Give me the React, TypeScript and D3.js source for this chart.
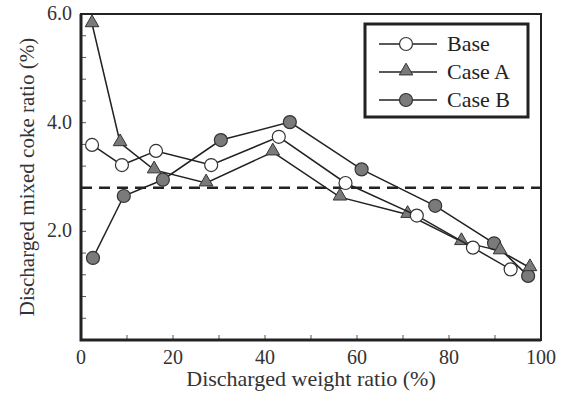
import React from "react";
import * as d3 from "d3";

// discharged weight ratio (%) vs discharged mixed coke ratio (%)
const baseX = [2.4, 8.9, 16.3, 28.3, 43.0, 57.5, 73.0, 85.2, 93.4];
const baseY = [3.59, 3.22, 3.48, 3.22, 3.74, 2.89, 2.29, 1.7, 1.3];
const caseAX = [2.4, 8.5, 15.9, 27.2, 41.7, 56.3, 71.0, 82.7, 91.1, 97.6];
const caseAY = [5.82, 3.63, 3.13, 2.89, 3.46, 2.63, 2.31, 1.81, 1.64, 1.33];
const caseBX = [2.6, 9.3, 17.8, 30.4, 45.4, 61.0, 77.0, 89.8, 97.2];
const caseBY = [1.51, 2.65, 2.95, 3.68, 4.01, 3.14, 2.47, 1.78, 1.18];
const refLine = 2.8;

const xLabels = [0, 20, 40, 60, 80, 100];
const yLabels = [2.0, 4.0, 6.0];
const legendNames = ["Base", "Case A", "Case B"];

const svgWidth = 569;
const svgHeight = 401;
const grey = "#7a7a7a";
const font = "Liberation Serif";
const margin = { top: 14, right: 28, bottom: 61, left: 81 };
const width = svgWidth - margin.left - margin.right;
const height = svgHeight - margin.top - margin.bottom;

const x = d3.scaleLinear().domain([0, 100]).range([0, width]);
const y = d3.scaleLinear().domain([0, 6]).range([height, 0]);
const line = d3
  .line<number[]>()
  .x((d) => x(d[0]))
  .y((d) => y(d[1]));
const tri = d3.symbol().type(d3.symbolTriangle).size(80)() as string;

function Marker({ kind, cx, cy }: { kind: string; cx: number; cy: number }) {
  if (kind === "tri") {
    return (
      <path
        d={tri}
        transform={`translate(${cx},${cy - 1})`}
        fill={grey}
        stroke="#333"
        strokeWidth={1}
      />
    );
  }
  return (
    <circle
      cx={cx}
      cy={cy}
      r={6.5}
      fill={kind === "dot" ? grey : "#fff"}
      stroke="#333"
      strokeWidth={1.2}
    />
  );
}

function App() {
  const series = [
    { xs: caseBX, ys: caseBY, kind: "dot" },
    { xs: caseAX, ys: caseAY, kind: "tri" },
    { xs: baseX, ys: baseY, kind: "open" },
  ];
  const legendKinds = ["open", "tri", "dot"];

  return (
    <svg
      width={svgWidth}
      height={svgHeight}
      style={{ position: "absolute", left: 0, top: 0, background: "#fff" }}
    >
      <g transform={`translate(${margin.left},${margin.top})`}>
        {d3.range(0, 101, 10).map((d) => (
          <line key={"xt" + d} x1={x(d)} x2={x(d)} y1={height} y2={height - 5} stroke="#555" />
        ))}
        {d3.range(0, 15).map((i) => (
          <line key={"yt" + i} x1={0} x2={5} y1={y(i * 0.4)} y2={y(i * 0.4)} stroke="#555" />
        ))}
        <rect width={width} height={height} fill="none" stroke="#222" strokeWidth={2} />
        <path d={`M0,0V${height}H${width}`} fill="none" stroke="#222" strokeWidth={3} />

        {xLabels.map((d) => (
          <text
            key={"xl" + d}
            x={x(d)}
            y={height + 24}
            textAnchor="middle"
            fontFamily={font}
            fontSize={20}
            fill="#333"
          >
            {d}
          </text>
        ))}
        {yLabels.map((d) => (
          <text
            key={"yl" + d}
            x={-9}
            y={y(d) + 6}
            textAnchor="end"
            fontFamily={font}
            fontSize={20}
            fill="#333"
          >
            {d.toFixed(1)}
          </text>
        ))}
        <text
          x={width / 2}
          y={height + 46}
          textAnchor="middle"
          fontFamily={font}
          fontSize={22}
          fill="#333"
        >
          Discharged weight ratio (%)
        </text>
        <text
          transform={`translate(-54,${height / 2}) rotate(-90)`}
          dy="0.35em"
          textAnchor="middle"
          fontFamily={font}
          fontSize={21}
          fill="#333"
        >
          Discharged mixed coke ratio (%)
        </text>

        <line
          x1={0}
          x2={width}
          y1={y(refLine)}
          y2={y(refLine)}
          stroke="#222"
          strokeWidth={2.5}
          strokeDasharray="11,7"
        />

        {series.map((s) => {
          const pts = s.xs.map((v, i) => [v, s.ys[i]]);
          return (
            <g key={s.kind}>
              <path d={line(pts) || ""} fill="none" stroke="#222" strokeWidth={1.5} />
              {pts.map((p, i) => (
                <Marker key={i} kind={s.kind} cx={x(p[0])} cy={y(p[1])} />
              ))}
            </g>
          );
        })}
      </g>

      <g transform="translate(365,24)">
        <rect width={163} height={93} fill="#fff" stroke="#222" strokeWidth={3} />
        {legendNames.map((name, i) => {
          const cy = 20 + i * 28;
          return (
            <g key={name}>
              <line x1={14} x2={72} y1={cy} y2={cy} stroke="#222" strokeWidth={1.5} />
              <Marker kind={legendKinds[i]} cx={41} cy={cy} />
              <text x={82} y={cy + 7} fontFamily={font} fontSize={22} fill="#222">
                {name}
              </text>
            </g>
          );
        })}
      </g>
    </svg>
  );
}

export default App;
